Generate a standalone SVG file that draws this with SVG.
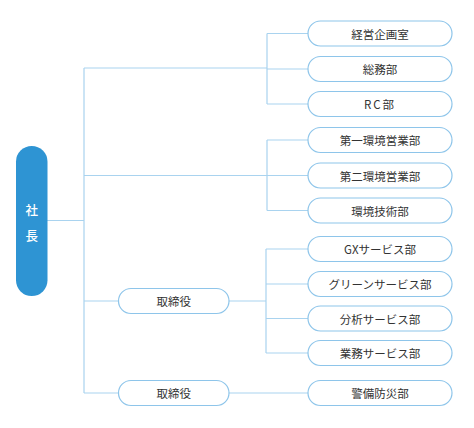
<svg xmlns="http://www.w3.org/2000/svg" width="474" height="428" viewBox="0 0 474 428">
<style>
.line{fill:none;stroke:#a9d3ef;stroke-width:1.2}
.box{fill:#fff;stroke:#8ec5ea;stroke-width:1.2}
.t{font-family:"Noto Sans CJK JP","Noto Sans",sans-serif;font-size:11.5px;fill:#333;text-anchor:middle;dominant-baseline:central}
.w{font-family:"Noto Sans CJK JP","Noto Sans",sans-serif;font-size:12.5px;fill:#fff;text-anchor:middle;dominant-baseline:central;font-weight:500}
</style>
<rect width="474" height="428" fill="#fff"/>
<g id="connectors">
<path class="line" d="M47 220.5H84M84 68V393"/>
<path class="line" d="M84 68H267M267 33.5V104M267 33.5H308M267 69H308M267 104H308"/>
<path class="line" d="M84 175.5H267M267 140V210.5M267 140H308M267 175.5H308M267 210.5H308"/>
<path class="line" d="M84 301H118M229 301H266M266 249V353M266 249H308M266 284H308M266 318.5H308M266 353H308"/>
<path class="line" d="M84 393H118M229 393H308"/>
</g>
<g id="president"><rect x="16" y="146" width="31.5" height="150" rx="15.75" fill="#2e94d3"/><text class="w" x="31.75" y="209">社</text><text class="w" x="31.75" y="235">長</text></g>
<g id="director1"><rect class="box" x="118.5" y="288.5" width="110.5" height="25" rx="12.5"/><text class="t" x="173.75" y="301">取締役</text></g>
<g id="director2"><rect class="box" x="118.5" y="380.5" width="110.5" height="25" rx="12.5"/><text class="t" x="173.75" y="393">取締役</text></g>
<g id="n1"><rect class="box" x="308" y="21" width="144" height="25" rx="12.5"/><text class="t" x="380" y="33.5">経営企画室</text></g>
<g id="n2"><rect class="box" x="308" y="56.5" width="144" height="25" rx="12.5"/><text class="t" x="380" y="69">総務部</text></g>
<g id="n3"><rect class="box" x="308" y="91.5" width="144" height="25" rx="12.5"/><text class="t" x="380" y="104" letter-spacing="2">RC部</text></g>
<g id="n4"><rect class="box" x="308" y="127.5" width="144" height="25" rx="12.5"/><text class="t" x="380" y="140">第一環境営業部</text></g>
<g id="n5"><rect class="box" x="308" y="163" width="144" height="25" rx="12.5"/><text class="t" x="380" y="175.5">第二環境営業部</text></g>
<g id="n6"><rect class="box" x="308" y="198" width="144" height="25" rx="12.5"/><text class="t" x="380" y="210.5">環境技術部</text></g>
<g id="n7"><rect class="box" x="308" y="236.5" width="144" height="25" rx="12.5"/><text class="t" x="380" y="249">GXサービス部</text></g>
<g id="n8"><rect class="box" x="308" y="271.5" width="144" height="25" rx="12.5"/><text class="t" x="380" y="284">グリーンサービス部</text></g>
<g id="n9"><rect class="box" x="308" y="306" width="144" height="25" rx="12.5"/><text class="t" x="380" y="318.5">分析サービス部</text></g>
<g id="n10"><rect class="box" x="308" y="340.5" width="144" height="25" rx="12.5"/><text class="t" x="380" y="353">業務サービス部</text></g>
<g id="n11"><rect class="box" x="308" y="380.5" width="144" height="25" rx="12.5"/><text class="t" x="380" y="393">警備防災部</text></g>
</svg>
